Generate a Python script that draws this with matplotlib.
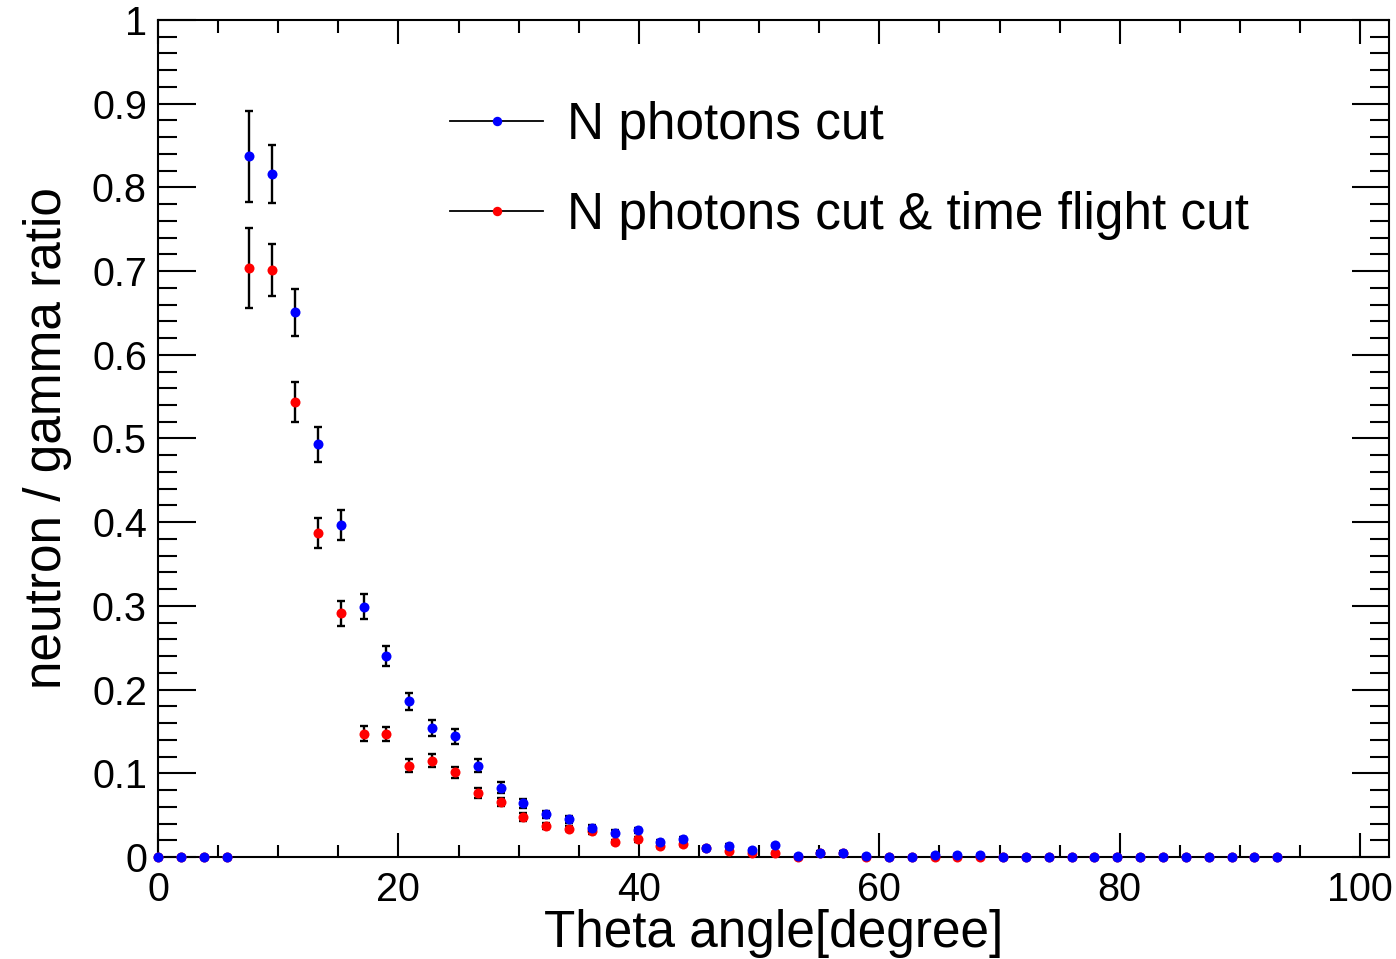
import numpy as np
import matplotlib
matplotlib.use("Agg")
import matplotlib.pyplot as plt
from matplotlib.lines import Line2D
from matplotlib.ticker import MultipleLocator, FuncFormatter

plt.rcParams["font.family"] = ["Liberation Sans", "DejaVu Sans"]

# Bin centres of the polar angle (degrees)
theta = [0.0, 1.9, 3.8, 5.7, 7.6, 9.5, 11.4, 13.3, 15.2, 17.1,
         19.0, 20.9, 22.8, 24.7, 26.6, 28.5, 30.4, 32.3, 34.2, 36.1,
         38.0, 39.9, 41.8, 43.7, 45.6, 47.5, 49.4, 51.3, 53.2, 55.1,
         57.0, 58.9, 60.8, 62.7, 64.6, 66.5, 68.4, 70.3, 72.2, 74.1,
         76.0, 77.9, 79.8, 81.7, 83.6, 85.5, 87.4, 89.3, 91.2, 93.1]

# neutron / gamma ratio after the photon-count cut
ratio_nphot = [0, 0, 0, 0, 0.837, 0.816, 0.651, 0.493, 0.397, 0.299,
               0.240, 0.186, 0.154, 0.144, 0.109, 0.083, 0.064, 0.051, 0.045, 0.035,
               0.029, 0.032, 0.018, 0.0215, 0.0104, 0.0135, 0.008, 0.014, 0.0016, 0.0052,
               0.0052, 0.0016, 0, 0, 0.0024, 0.0024, 0.0024, 0, 0, 0,
               0, 0, 0, 0, 0, 0, 0, 0, 0, 0]
err_nphot = [0, 0, 0, 0, 0.054, 0.035, 0.028, 0.021, 0.018, 0.015,
             0.012, 0.0105, 0.0095, 0.009, 0.008, 0.007, 0.005, 0.0045, 0.004, 0.0035,
             0.003, 0.003, 0.0025, 0.0025, 0.002, 0.002, 0.0018, 0.002, 0.001, 0.0015,
             0.0015, 0.001, 0, 0, 0.001, 0.001, 0.001, 0, 0, 0,
             0, 0, 0, 0, 0, 0, 0, 0, 0, 0]

# neutron / gamma ratio after the photon-count and time-of-flight cuts
ratio_tof = [0, 0, 0, 0, 0.704, 0.701, 0.544, 0.387, 0.291, 0.147,
             0.147, 0.109, 0.115, 0.101, 0.077, 0.066, 0.048, 0.037, 0.034, 0.031,
             0.018, 0.021, 0.013, 0.0155, 0.0104, 0.0076, 0.0044, 0.0044, 0, 0.005,
             0.005, 0, 0, 0, 0, 0, 0, 0, 0, 0,
             0, 0, 0, 0, 0, 0, 0, 0, 0, 0]
err_tof = [0, 0, 0, 0, 0.048, 0.031, 0.024, 0.018, 0.015, 0.009,
           0.008, 0.008, 0.008, 0.007, 0.006, 0.005, 0.0045, 0.004, 0.0035, 0.0035,
           0.0025, 0.003, 0.002, 0.0025, 0.002, 0.0017, 0.0013, 0.0013, 0, 0.0015,
           0.0015, 0, 0, 0, 0, 0, 0, 0, 0, 0,
           0, 0, 0, 0, 0, 0, 0, 0, 0, 0]

series = [
    ("N photons cut & time flight cut", ratio_tof, err_tof, "#ff0000"),
    ("N photons cut", ratio_nphot, err_nphot, "#0000ff"),
]

fig = plt.figure(figsize=(13.96, 9.59), dpi=100)
ax = fig.add_axes([158 / 1396, 102 / 959, (1389 - 158) / 1396, (857 - 20) / 959])

x = np.asarray(theta)
z = 3
for label, vals, errs, color in series:
    y = np.asarray(vals)
    e = np.asarray(errs)
    m = e > 0
    ax.errorbar(x[m], y[m], yerr=e[m], fmt="none", ecolor="black",
                elinewidth=1.7, capsize=3.2, capthick=1.7, zorder=z, clip_on=False)
    ax.plot(x, y, "o", color=color, markersize=7.2, markeredgewidth=0,
            zorder=z + 1, clip_on=False)
    z += 2

ax.set_xlim(0, 102.4)
ax.set_ylim(0, 1)
ax.xaxis.set_major_locator(MultipleLocator(20))
ax.xaxis.set_minor_locator(MultipleLocator(5))
ax.yaxis.set_major_locator(MultipleLocator(0.1))
ax.yaxis.set_minor_locator(MultipleLocator(0.02))
ax.yaxis.set_major_formatter(FuncFormatter(lambda v, p: "%g" % round(v, 2)))

for s in ax.spines.values():
    s.set_linewidth(1.5)
ax.tick_params(axis="both", which="both", direction="in", top=True, right=True,
               width=1.5, labelsize=28.5)
ax.tick_params(axis="x", which="major", length=17, pad=10)
ax.tick_params(axis="x", which="minor", length=9)
ax.tick_params(axis="y", which="major", length=27, pad=8)
ax.tick_params(axis="y", which="minor", length=14)

ax.set_xlabel("Theta angle[degree]", fontsize=37, labelpad=0)
ax.set_ylabel("neutron / gamma ratio", fontsize=37, labelpad=14)

handles = [
    Line2D([], [], color="black", lw=1.3, marker="o", markersize=6.8,
           markerfacecolor="#0000ff", markeredgewidth=0),
    Line2D([], [], color="black", lw=1.3, marker="o", markersize=6.8,
           markerfacecolor="#ff0000", markeredgewidth=0),
]
ax.legend(handles, ["N photons cut", "N photons cut & time flight cut"],
          loc="upper left", bbox_to_anchor=(450 / 1396, 1 - 101 / 959),
          bbox_transform=fig.transFigure, frameon=False, fontsize=37,
          borderpad=0, borderaxespad=0, handlelength=1.81, handletextpad=0.47,
          labelspacing=0.80)

fig.savefig("out.png", dpi=100)
